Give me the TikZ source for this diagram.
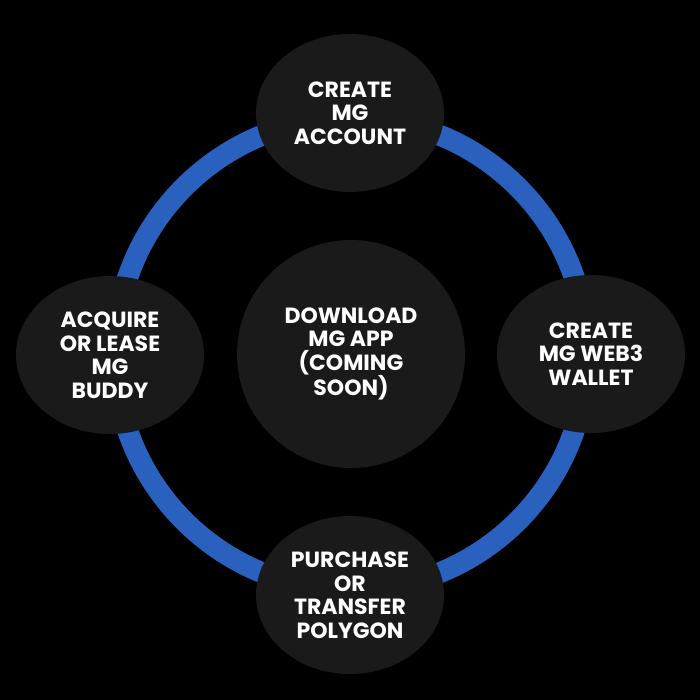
\documentclass[tikz,border=0pt]{standalone}
\usepackage{fontspec}
\setmainfont{Poppins}
\usepackage{tikz}
\usetikzlibrary{shapes.geometric,backgrounds}

\definecolor{ringblue}{HTML}{2A60BE}
\definecolor{bubble}{HTML}{1A1A1A}

\begin{document}
\begin{tikzpicture}[
  x=1pt, y=-1pt,
  font=\fontsize{22}{23.5}\selectfont\bfseries,
  every node/.style={align=center, text=white},
  stepbubble/.style={ellipse, fill=bubble, minimum width=188pt, minimum height=158pt, inner sep=0pt},
  hubbubble/.style={circle, fill=bubble, minimum size=228pt, inner sep=0pt},
]
  \useasboundingbox (0,0) rectangle (700,700);

  \node[hubbubble]  (hub)    at (351,354) {DOWNLOAD\\MG APP\\(COMING\\SOON)};
  \node[stepbubble] (acct)   at (350,113) {CREATE\\MG\\ACCOUNT};
  \node[stepbubble] (wallet) at (591,354) {CREATE\\MG WEB3\\WALLET};
  \node[stepbubble] (poly)   at (350,595) {PURCHASE\\OR\\TRANSFER\\POLYGON};
  \node[stepbubble] (buddy)  at (110,355) {ACQUIRE\\OR LEASE\\MG\\BUDDY};

  % black page, then the ring joining the four steps
  \begin{scope}[on background layer]
    \fill[black] (0,0) rectangle (700,700);
    \draw[ringblue, line width=21pt] (hub.center) circle[radius=236];
  \end{scope}
\end{tikzpicture}
\end{document}
